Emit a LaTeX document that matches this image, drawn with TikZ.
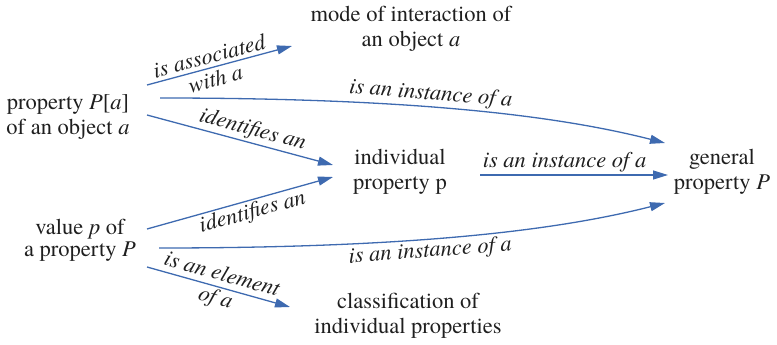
\documentclass[tikz,border=0pt]{standalone}
\usepackage{fontspec}
\setmainfont{TeX Gyre Termes}
\usetikzlibrary{arrows.meta}
\definecolor{arrblue}{RGB}{62,106,176}
\begin{document}
\begin{tikzpicture}[x=1pt,y=-1pt,
  concept/.style={align=center,inner sep=0pt,font=\fontsize{22.5}{25}\selectfont,text=black!88},
  arr/.style={draw=arrblue,line width=1.3pt,-{Triangle[length=15pt,width=9pt]}},
  lbl/.style={font=\fontsize{22.5}{24}\selectfont\itshape,text=black!88,inner sep=2pt}]
\useasboundingbox (0,0) rectangle (777,345);
\node[concept] (A) at (68,117) {property \textit{P}[\textit{a}]\\of an object \textit{a}};
\node[concept,font=\fontsize{22.5}{22}\selectfont] (B) at (80,240) {value \textit{p} of\\a property \textit{P}};
\node[concept] (C) at (411,29) {mode of interaction of\\an object \textit{a}};
\node[concept] (D) at (400,172) {individual\\property p};
\node[concept] (E) at (722,172) {general\\property \textit{P}};
\node[concept] (F) at (408,316) {classification of\\individual properties};

\draw[arr] ([shift={(79,-32)}]A.center) -- node[lbl,pos=0.45,sloped,align=center] {is associated\\with \textit{a}} ([shift={(-119,17)}]C.center);
\draw[arr] ([shift={(92,-19)}]A.center) .. controls +(250,0) and +(-110,-28) .. node[lbl,pos=0.43,sloped,above] {is an instance of a} ([shift={(-57,-29)}]E.center);
\draw[arr] ([shift={(79,-2)}]A.center) -- node[lbl,pos=0.55,sloped,above] {identifies an} ([shift={(-67,-7)}]D.center);
\draw[arr] ([shift={(67,-11)}]B.center) -- node[lbl,pos=0.55,sloped,below] {identifies an} ([shift={(-67,5)}]D.center);
\draw[arr] ([shift={(80,3)}]D.center) -- node[lbl,pos=0.45,above] {is an instance of a} ([shift={(-54,3)}]E.center);
\draw[arr] ([shift={(79,8)}]B.center) .. controls +(250,0) and +(-110,28) .. node[lbl,pos=0.43,sloped,below] {is an instance of a} ([shift={(-57,31)}]E.center);
\draw[arr] ([shift={(67,27)}]B.center) -- node[lbl,pos=0.5,sloped,align=center] {is an element\\of \textit{a}} ([shift={(-118,-9)}]F.center);
\end{tikzpicture}
\end{document}
